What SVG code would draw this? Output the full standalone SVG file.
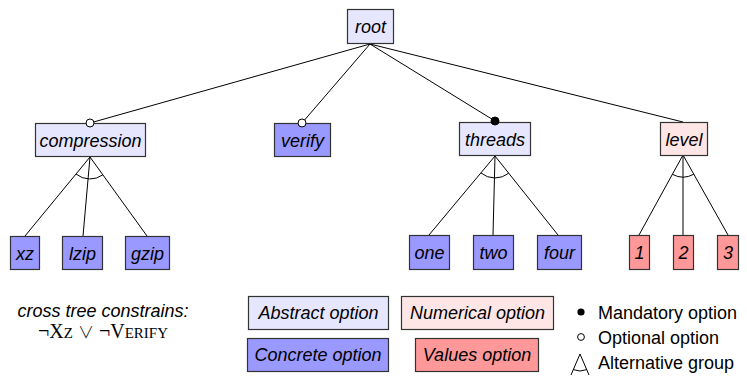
<svg xmlns="http://www.w3.org/2000/svg" width="747" height="376" viewBox="0 0 747 376">
  <style>
    .box { stroke: #333; stroke-width: 1.2; }
    .abstract { fill: #e6e6ff; }
    .concrete { fill: #9999ff; }
    .numerical { fill: #ffe6e6; }
    .values { fill: #ff9999; }
    .lbl { font-family: "Liberation Sans", Arial, sans-serif; font-size: 18px; font-style: italic; text-anchor: middle; fill: #000; }
    .leg { font-family: "Liberation Sans", Arial, sans-serif; font-size: 18px; fill: #000; }
    .edge { stroke: #000; stroke-width: 1; fill: none; }
    .opt { fill: #fff; stroke: #000; stroke-width: 1; }
    .man { fill: #000; stroke: #000; stroke-width: 1; }
    .math { font-family: "Liberation Serif", "Times New Roman", serif; }
    .sc { font-size: 15px; }
    .or { font-family: "Noto Sans CJK JP", "DejaVu Sans", sans-serif; font-weight: 300; font-size: 16px; }
  </style>

  <g id="connectors">
    <line class="edge" x1="370" y1="44" x2="90" y2="123"/>
    <line class="edge" x1="370" y1="44" x2="302" y2="123"/>
    <line class="edge" x1="370" y1="44" x2="495" y2="121"/>
    <line class="edge" x1="370" y1="44" x2="683" y2="122"/>
    <line class="edge" x1="90" y1="157" x2="25" y2="236"/>
    <line class="edge" x1="90" y1="157" x2="83" y2="236"/>
    <line class="edge" x1="90" y1="157" x2="147" y2="236"/>
    <path class="edge" d="M76,174 A22,22 0 0 0 102.9,174.8"/>
    <line class="edge" x1="495" y1="156" x2="429" y2="235"/>
    <line class="edge" x1="495" y1="156" x2="493" y2="235"/>
    <line class="edge" x1="495" y1="156" x2="558" y2="235"/>
    <path class="edge" d="M480.9,172.9 A22,22 0 0 0 508.7,173.2"/>
    <line class="edge" x1="683" y1="155" x2="639" y2="235"/>
    <line class="edge" x1="683" y1="155" x2="683" y2="235"/>
    <line class="edge" x1="683" y1="155" x2="728" y2="235"/>
    <path class="edge" d="M672.4,174.3 A22,22 0 0 0 693.8,174.2"/>
  </g>

  <g id="root"><rect class="box abstract" x="347.5" y="9.5" width="46" height="34"/><text class="lbl" x="370.5" y="32.5">root</text></g>
  <g id="compression"><rect class="box abstract" x="35.5" y="123.5" width="110" height="33"/><text class="lbl" x="90.5" y="146.5">compression</text><circle class="opt" cx="90" cy="123" r="4"/></g>
  <g id="verify"><rect class="box concrete" x="274.5" y="123.5" width="56" height="33"/><text class="lbl" x="302.5" y="146.5">verify</text><circle class="opt" cx="302" cy="123" r="4"/></g>
  <g id="threads"><rect class="box abstract" x="459.5" y="122.5" width="71" height="33"/><text class="lbl" x="495" y="145.5">threads</text><circle class="man" cx="495" cy="121" r="4"/></g>
  <g id="level"><rect class="box numerical" x="660.5" y="122.5" width="47" height="33"/><text class="lbl" x="684" y="145.5">level</text></g>

  <g id="xz"><rect class="box concrete" x="10.5" y="236.5" width="29" height="33"/><text class="lbl" x="25" y="259.5">xz</text></g>
  <g id="lzip"><rect class="box concrete" x="62.5" y="236.5" width="40" height="33"/><text class="lbl" x="82.5" y="259.5">lzip</text></g>
  <g id="gzip"><rect class="box concrete" x="125.5" y="236.5" width="44" height="33"/><text class="lbl" x="147.5" y="259.5">gzip</text></g>
  <g id="one"><rect class="box concrete" x="409.5" y="235.5" width="40" height="34"/><text class="lbl" x="429.5" y="258.5">one</text></g>
  <g id="two"><rect class="box concrete" x="473.5" y="235.5" width="40" height="34"/><text class="lbl" x="493.5" y="258.5">two</text></g>
  <g id="four"><rect class="box concrete" x="537.5" y="235.5" width="44" height="34"/><text class="lbl" x="559.5" y="258.5">four</text></g>
  <g id="v1"><rect class="box values" x="629.5" y="235.5" width="20" height="34"/><text class="lbl" x="639.5" y="258.5">1</text></g>
  <g id="v2"><rect class="box values" x="673.5" y="235.5" width="20" height="34"/><text class="lbl" x="683.5" y="258.5">2</text></g>
  <g id="v3"><rect class="box values" x="717.5" y="235.5" width="21" height="34"/><text class="lbl" x="728" y="258.5">3</text></g>

  <g id="constraints">
    <text class="lbl" x="103" y="317">cross tree constrains:</text>
    <text class="math" x="103" y="338" text-anchor="middle" font-size="20">¬X<tspan class="sc">Z</tspan> <tspan class="or">∨</tspan> ¬V<tspan class="sc">ERIFY</tspan></text>
  </g>

  <g id="legend">
    <rect class="box abstract" x="248.5" y="296.5" width="140" height="33"/>
    <text class="lbl" x="318.5" y="319">Abstract option</text>
    <rect class="box concrete" x="247.5" y="338.5" width="141" height="33"/>
    <text class="lbl" x="318" y="361">Concrete option</text>
    <rect class="box numerical" x="401.5" y="296.5" width="152" height="33"/>
    <text class="lbl" x="477.5" y="319">Numerical option</text>
    <rect class="box values" x="415.5" y="338.5" width="123" height="33"/>
    <text class="lbl" x="477" y="361">Values option</text>
    <circle cx="581" cy="312" r="3.6" fill="#000"/>
    <text class="leg" x="598" y="318.5">Mandatory option</text>
    <circle cx="581" cy="337" r="3.4" fill="#fff" stroke="#000" stroke-width="1"/>
    <text class="leg" x="598" y="343.5">Optional option</text>
    <path class="edge" d="M571,375 L580,354 L589,375 M573.3,369.6 A17,17 0 0 0 586.7,369.6"/>
    <text class="leg" x="598" y="368.5">Alternative group</text>
  </g>
</svg>
